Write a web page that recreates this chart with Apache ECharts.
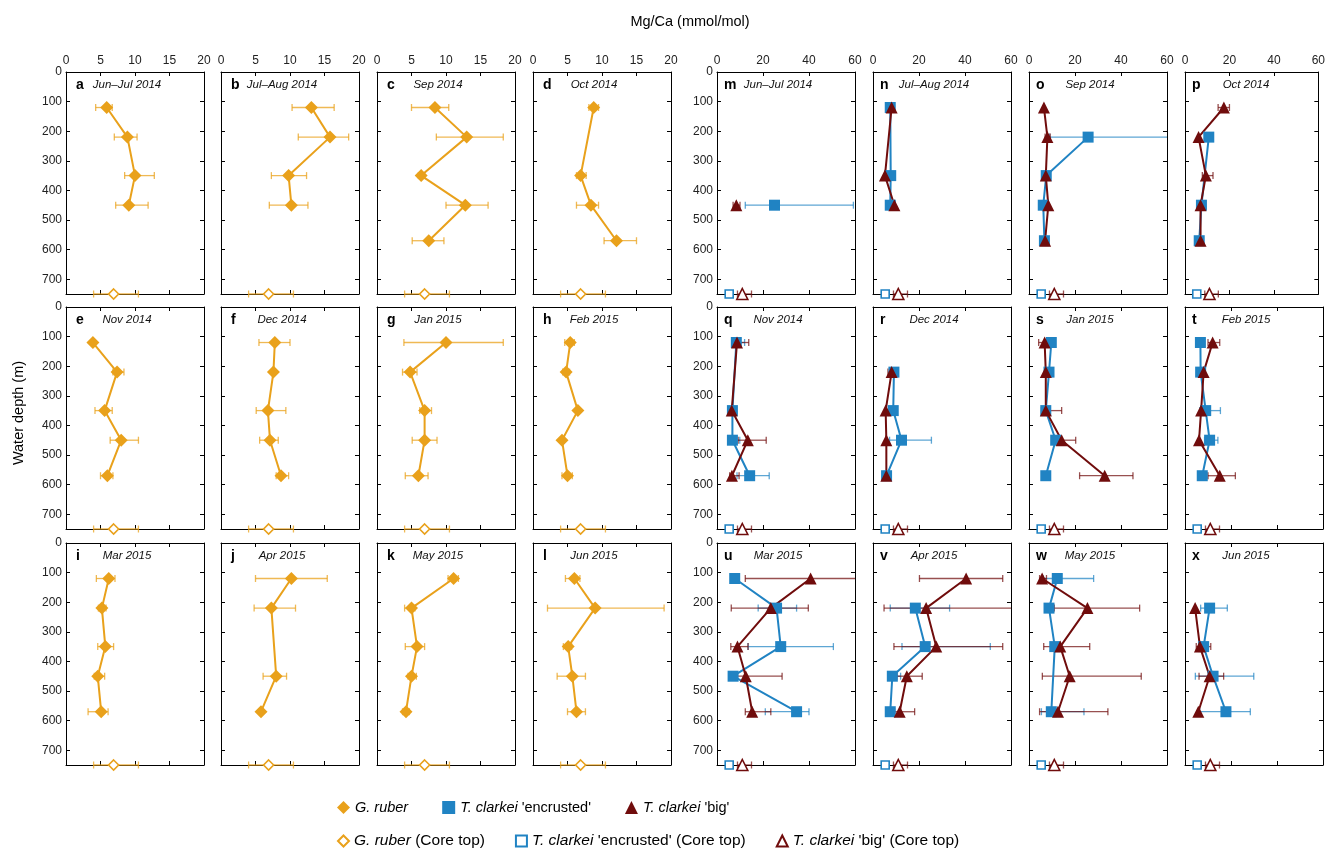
<!DOCTYPE html>
<html><head><meta charset="utf-8">
<script src="https://cdn.jsdelivr.net/npm/echarts@6/dist/echarts.min.js"></script>
<style>html,body{margin:0;padding:0;background:#fff}#c{width:1328px;height:848px}</style>
</head><body><div id="c"></div><script>
// ---------------- data ----------------
const depths = [120, 220, 350, 450, 570];
const coreDepth = 750;
const lettersRuber = ['a','b','c','d','e','f','g','h','i','j','k','l'];
const lettersClarkei = ['m','n','o','p','q','r','s','t','u','v','w','x'];
const months = ['Jun\u2013Jul 2014','Jul\u2013Aug 2014','Sep 2014','Oct 2014','Nov 2014','Dec 2014','Jan 2015','Feb 2015','Mar 2015','Apr 2015','May 2015','Jun 2015'];
const ruberTicks = [0, 5, 10, 15, 20];
const clarkeiTicks = [0, 20, 40, 60];
const depthTicks = [0, 100, 200, 300, 400, 500, 600, 700];

// G. ruber Mg/Ca per panel (a..l), at depths 120,220,350,450,570
const ruberMg = [
  [5.9, 8.9, 10.0, 9.1, null],
  [13.1, 15.8, 9.8, 10.2, null],
  [8.4, 13.0, 6.4, 12.8, 7.5],
  [8.8, null, 6.9, 8.4, 12.1],
  [3.9, 7.4, 5.6, 8.0, 6.0],
  [7.8, 7.6, 6.8, 7.1, 8.7],
  [10.0, 4.8, 6.9, 6.9, 6.0],
  [5.4, 4.8, 6.5, 4.2, 5.0],
  [6.2, 5.2, 5.7, 4.6, 5.1],
  [10.2, 7.3, null, 8.0, 5.8],
  [11.1, 5.0, 5.8, 5.0, 4.2],
  [6.0, 9.0, 5.1, 5.7, 6.3]
];
const ruberLo = [
  [4.3, 7.0, 8.5, 7.2, null],
  [10.3, 11.2, 7.3, 7.0, null],
  [5.0, 8.6, 6.0, 10.0, 5.1],
  [8.1, null, 6.3, 6.3, 10.3],
  [null, 6.8, 4.2, 6.4, 5.0],
  [5.5, null, 5.1, 5.6, 8.0],
  [3.9, 3.7, 6.2, 5.1, 4.1],
  [4.6, 4.3, null, null, 4.2],
  [4.4, 4.7, 4.6, 4.1, 3.2],
  [5.0, 4.8, null, 6.1, null],
  [10.3, 4.0, 4.1, 4.5, 3.7],
  [4.7, 2.1, 4.4, 3.5, 5.0]
];
const ruberHi = [
  [6.7, 10.3, 12.8, 11.9, null],
  [16.4, 18.5, 12.4, 12.6, null],
  [10.4, 18.3, 6.9, 16.1, 9.7],
  [9.5, null, 7.7, 9.5, 15.0],
  [null, 8.4, 6.7, 10.5, 6.8],
  [10.0, null, 9.4, 8.3, 9.8],
  [18.3, 5.8, 7.9, 8.7, 7.4],
  [6.0, 5.3, null, null, 5.7],
  [7.1, 5.8, 6.9, 5.6, 6.1],
  [15.4, 10.8, null, 9.5, null],
  [11.8, 5.5, 6.9, 5.7, 4.7],
  [6.8, 19.0, 5.6, 7.6, 7.6]
];

// T. clarkei 'encrusted' per panel (m..x)
const encMg = [
  [null, null, null, 25.0, null],
  [7.5, null, 7.7, 7.5, null],
  [null, 25.7, 7.5, 6.2, 6.7],
  [null, 10.7, null, 7.4, 6.4],
  [8.4, null, 6.7, 6.7, 14.2],
  [null, 9.1, 8.8, 12.4, 5.9],
  [9.7, 8.7, 7.3, 11.6, 7.3],
  [6.7, 6.8, 9.0, 10.7, 7.5],
  [7.7, 25.9, 27.7, 7.0, 34.6],
  [null, 18.4, 22.7, 8.4, 7.5],
  [12.3, 8.7, 11.2, null, 9.7],
  [null, 10.7, 8.1, 12.2, 17.8]
];
const encLo = [
  [null, null, null, 12.3, null],
  [null, null, null, null, null],
  [null, 9.0, null, null, null],
  [null, null, null, null, null],
  [6.5, null, null, 5.2, 8.7],
  [null, null, null, 7.2, null],
  [null, null, null, null, null],
  [null, null, 6.4, 8.5, 6.0],
  [null, 17.9, 13.5, null, 21.0],
  [null, 7.5, 12.6, 6.5, null],
  [6.1, null, null, null, 5.4],
  [null, 6.8, null, 4.5, 6.4]
];
const encHi = [
  [null, null, null, 59.3, null],
  [null, null, null, null, null],
  [null, 75.0, null, null, null],
  [null, null, null, null, null],
  [12.0, null, null, 9.9, 22.7],
  [null, null, null, 25.4, null],
  [null, null, null, null, null],
  [null, null, 15.4, 14.3, 9.5],
  [null, 34.6, 50.6, null, 40.0],
  [null, 33.3, 51.0, 12.0, null],
  [28.1, null, null, null, 23.9],
  [null, 18.4, null, 29.9, 28.4]
];

// T. clarkei 'big' per panel (m..x)
const bigMg = [
  [null, null, null, 8.4, null],
  [8.1, null, 5.2, 9.3, null],
  [6.5, 8.0, 7.3, 8.4, 7.0],
  [17.5, 6.1, 9.4, 7.0, 7.0],
  [8.7, null, 6.4, 13.4, 6.5],
  [null, 8.1, 5.5, 5.8, 5.8],
  [6.8, 7.3, 7.3, 14.2, 32.9],
  [12.0, 8.1, 7.0, 6.1, 15.1],
  [40.7, 23.4, 8.9, 12.5, 15.3],
  [40.5, 23.1, 27.5, 14.7, 11.6],
  [5.7, 25.4, 13.6, 17.7, 12.6],
  [null, 4.4, 6.5, 10.7, 5.8]
];
const bigLo = [
  [null, null, null, 7.0, null],
  [null, null, null, null, null],
  [null, 7.0, null, null, null],
  [14.9, null, 7.8, null, null],
  [7.0, null, null, 9.2, 5.5],
  [null, 6.5, null, null, null],
  [4.2, null, 5.4, 11.9, 22.0],
  [10.0, null, null, null, 10.0],
  [12.3, 6.2, 6.0, 7.0, 12.3],
  [20.2, 4.8, 9.1, 10.4, 9.4],
  [4.6, 11.0, 6.4, 5.8, 4.6],
  [null, null, 4.9, 6.1, null]
];
const bigHi = [
  [null, null, null, 10.0, null],
  [null, null, null, null, null],
  [null, 9.2, null, null, null],
  [20.0, null, 12.6, null, null],
  [13.8, null, null, 21.4, 9.6],
  [null, 9.5, null, null, null],
  [8.6, null, 14.2, 20.3, 45.2],
  [15.1, null, null, null, 21.9],
  [75.0, 39.7, 13.5, 28.3, 23.4],
  [56.4, 75.0, 56.4, 21.4, 18.1],
  [7.6, 48.1, 26.4, 48.8, 34.3],
  [null, null, 11.2, 16.8, null]
];

// core top values: [mg, lo, hi]
const coreRuber = [6.9, 4.0, 10.5];
const coreEnc = [5.3, 4.6, 6.2];
const coreBig = [11.0, 8.9, 15.0];

// ---------------- layout / style ----------------
const LEFT = [66, 221, 377, 533, 717, 873, 1029, 1185];
const TOP = [72, 307, 543];
const W = 138, H = 222;
const FONT = 'Liberation Sans, Arial, sans-serif';
const C_RUB = '#E9A11B', C_ENC = '#2083C3', C_BIG = '#700C0C';
const E_RUB = 'rgba(233,161,27,0.75)', E_ENC = 'rgba(32,131,195,0.72)', E_BIG = 'rgba(112,12,12,0.72)';
const DIAMOND = 'diamond', SQUARE = 'rect', TRI = 'triangle';

const grids = [], xAxes = [], yAxes = [], series = [], graphics = [];

function errRender(color) {
  return function (params, api) {
    const lo = api.value(0), hi = api.value(1), y = api.value(2);
    const p1 = api.coord([lo, y]), p2 = api.coord([hi, y]);
    const cs = params.coordSys;
    const xmin = cs.x, xmax = cs.x + cs.width;
    const x1 = Math.max(p1[0], xmin), x2 = Math.min(p2[0], xmax);
    const yy = p1[1];
    const st = { stroke: color, lineWidth: 1.3 };
    const ch = [{ type: 'line', shape: { x1: x1, y1: yy, x2: x2, y2: yy }, style: st }];
    if (p1[0] >= xmin - 0.5) ch.push({ type: 'line', shape: { x1: p1[0], y1: yy - 3.5, x2: p1[0], y2: yy + 3.5 }, style: st });
    if (p2[0] <= xmax + 0.5) ch.push({ type: 'line', shape: { x1: p2[0], y1: yy - 3.5, x2: p2[0], y2: yy + 3.5 }, style: st });
    return { type: 'group', children: ch };
  };
}

function axisCommon() {
  return {
    axisLine: { show: true, onZero: false, lineStyle: { color: '#000', width: 1 } },
    axisTick: { show: true, inside: true, length: 4, lineStyle: { color: '#000', width: 1 } },
    splitLine: { show: false }
  };
}

function addSpecies(gi, mgRow, loRow, hiRow, core, name, symbol, size, coreSize, color, ecolor) {
  const pts = [], errs = [];
  for (let k = 0; k < depths.length; k++) {
    if (mgRow[k] != null) pts.push([mgRow[k], depths[k]]);
    if (loRow[k] != null && hiRow[k] != null) errs.push([loRow[k], hiRow[k], depths[k]]);
  }
  errs.push([core[1], core[2], coreDepth]);
  const ax = { xAxisIndex: 2 * gi, yAxisIndex: 2 * gi };
  series.push(Object.assign({
    type: 'custom', name: name + ' err', renderItem: errRender(ecolor), data: errs,
    encode: { x: [0, 1], y: 2 }, z: 1, silent: true, clip: false
  }, ax));
  series.push(Object.assign({
    type: 'line', name: name + ' line', data: pts, symbol: 'none', z: 2, silent: true,
    lineStyle: { color: color, width: 2 }, animation: false
  }, ax));
  series.push(Object.assign({
    type: 'scatter', name: name, data: pts, symbol: symbol, symbolSize: size, z: 3, silent: true,
    itemStyle: { color: color, opacity: 1 }, animation: false
  }, ax));
  series.push(Object.assign({
    type: 'scatter', name: name + ' (Core top)', data: [[core[0], coreDepth]], symbol: symbol, symbolSize: coreSize,
    z: 3, silent: true, clip: false,
    itemStyle: { color: '#fff', borderColor: color, borderWidth: 1.6, opacity: 1 }, animation: false
  }, ax));
}

for (let g = 0; g < 2; g++) {
  for (let p = 0; p < 12; p++) {
    const row = Math.floor(p / 4), col = p % 4, gi = g * 12 + p;
    const left = LEFT[g * 4 + col], top = TOP[row];
    grids.push({ left: left, top: top, width: W, height: H });
    const xmax = g === 0 ? ruberTicks[ruberTicks.length - 1] : clarkeiTicks[clarkeiTicks.length - 1];
    const xint = g === 0 ? ruberTicks[1] - ruberTicks[0] : clarkeiTicks[1] - clarkeiTicks[0];
    xAxes.push(Object.assign(axisCommon(), {
      type: 'value', gridIndex: gi, position: 'top', min: 0, max: xmax, interval: xint,
      axisLabel: { show: row === 0, margin: 5, fontSize: 12, color: '#222', fontFamily: FONT }
    }));
    xAxes.push(Object.assign(axisCommon(), {
      type: 'value', gridIndex: gi, position: 'bottom', min: 0, max: xmax, interval: xint,
      axisLabel: { show: false }
    }));
    const ymax = coreDepth, yint = depthTicks[1] - depthTicks[0];
    yAxes.push(Object.assign(axisCommon(), {
      type: 'value', gridIndex: gi, position: 'left', inverse: true, min: 0, max: ymax, interval: yint,
      axisLabel: { show: col === 0, showMaxLabel: false, margin: 4, fontSize: 12, color: '#222', fontFamily: FONT }
    }));
    yAxes.push(Object.assign(axisCommon(), {
      type: 'value', gridIndex: gi, position: 'right', inverse: true, min: 0, max: ymax, interval: yint,
      axisLabel: { show: false }
    }));
    if (g === 0) {
      addSpecies(gi, ruberMg[p], ruberLo[p], ruberHi[p], coreRuber, 'G. ruber', DIAMOND, 13, 10, C_RUB, E_RUB);
    } else {
      addSpecies(gi, encMg[p], encLo[p], encHi[p], coreEnc, "T. clarkei 'encrusted'", SQUARE, 11, 8, C_ENC, E_ENC);
      addSpecies(gi, bigMg[p], bigLo[p], bigHi[p], coreBig, "T. clarkei 'big'", TRI, 12, 11, C_BIG, E_BIG);
    }
    const letter = g === 0 ? lettersRuber[p] : lettersClarkei[p];
    graphics.push({ type: 'text', silent: true, style: {
      text: letter, x: left + (g === 0 ? 10 : 7), y: top + 13, align: 'left', verticalAlign: 'middle',
      font: 'bold 14px ' + FONT, fill: '#000' } });
    graphics.push({ type: 'text', silent: true, style: {
      text: months[p], x: left + W / 2 - 8, y: top + 13, align: 'center', verticalAlign: 'middle',
      font: 'italic 11.5px ' + FONT, fill: '#111' } });
  }
}

graphics.push({ type: 'text', silent: true, style: {
  text: 'Mg/Ca (mmol/mol)', x: 690, y: 22, align: 'center', verticalAlign: 'middle',
  font: '14.5px ' + FONT, fill: '#000' } });
graphics.push({ type: 'text', silent: true, x: 19, y: 413, rotation: Math.PI / 2, style: {
  text: 'Water depth (m)', x: 0, y: 0, align: 'center', verticalAlign: 'middle',
  font: '14.5px ' + FONT, fill: '#000' } });

function legendText(size) {
  return {
    fontSize: size, color: '#000', fontFamily: FONT,
    rich: { i: { fontStyle: 'italic', fontSize: size, color: '#000', fontFamily: FONT } }
  };
}
const fmt = n => n.replace(/^(G\. ruber|T\. clarkei)/, '{i|$1}');

const option = {
  animation: false,
  backgroundColor: '#fff',
  grid: grids,
  xAxis: xAxes,
  yAxis: yAxes,
  series: series,
  graphic: graphics,
  legend: [
    { left: 332, top: 795, itemGap: 34, itemWidth: 13, itemHeight: 13, textStyle: legendText(14.5), formatter: fmt,
      selectedMode: false, data: ['G. ruber', "T. clarkei 'encrusted'", "T. clarkei 'big'"] },
    { left: 332, top: 828, itemGap: 30, itemWidth: 11, itemHeight: 11, textStyle: legendText(15.5), formatter: fmt,
      selectedMode: false, data: ['G. ruber (Core top)', "T. clarkei 'encrusted' (Core top)", "T. clarkei 'big' (Core top)"] }
  ]
};
const chart = echarts.init(document.getElementById('c'), null, { renderer: 'canvas' });
chart.setOption(option);
</script></body></html>
